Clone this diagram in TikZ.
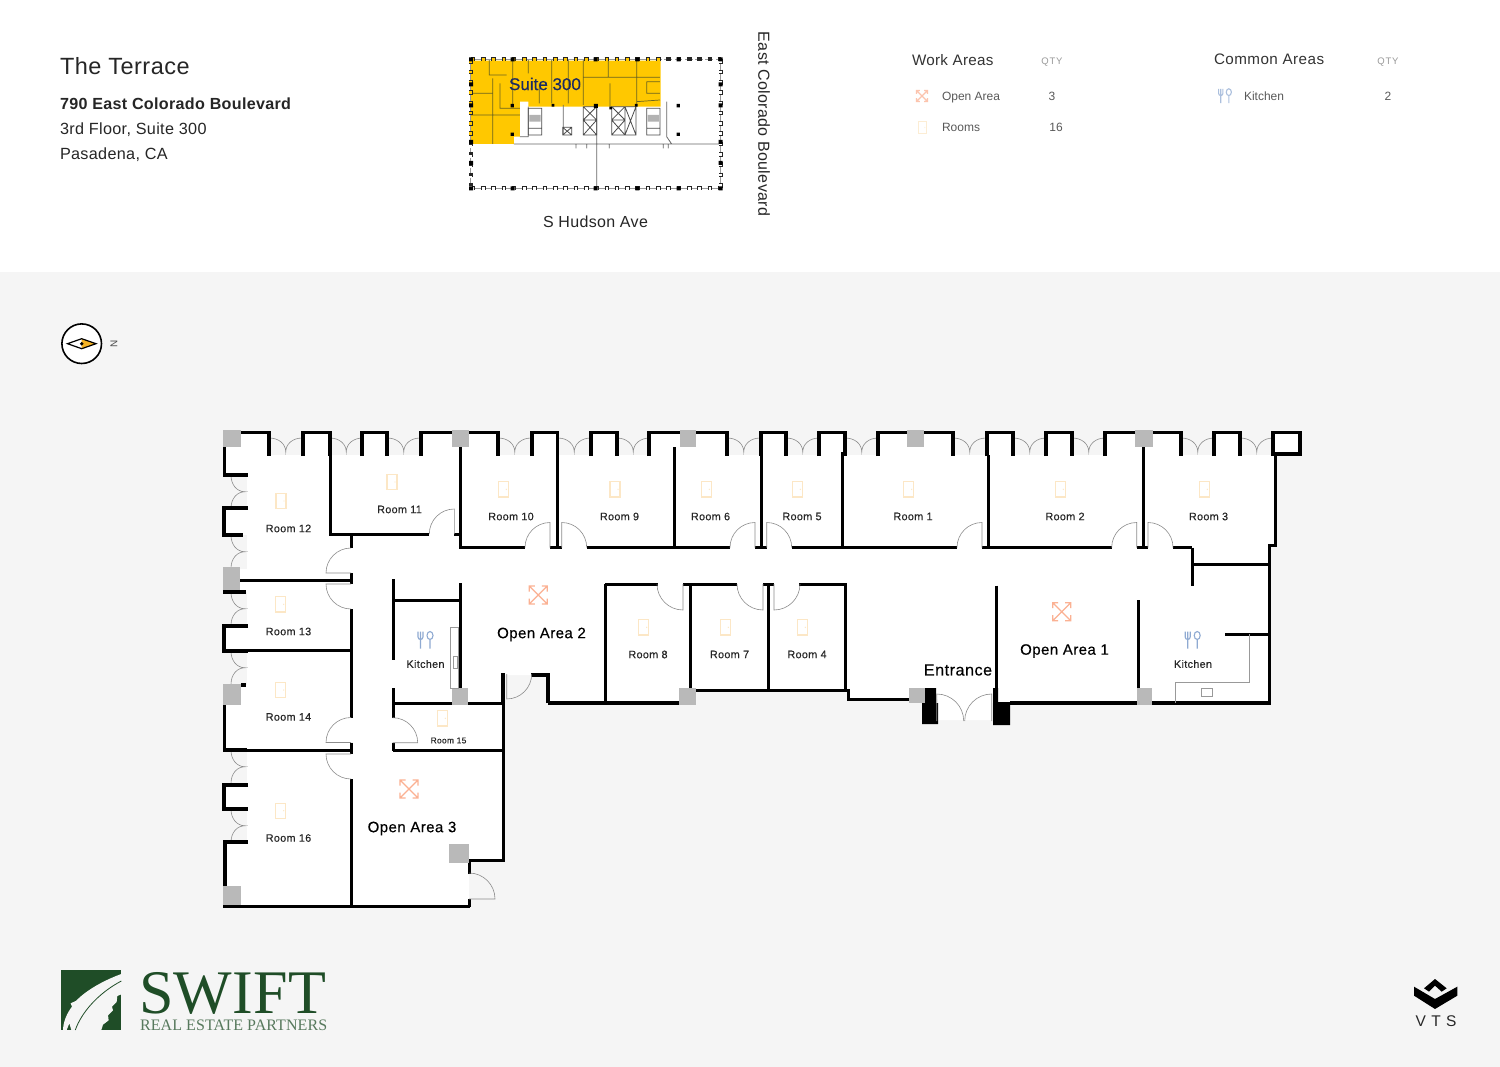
\documentclass[tikz,border=0pt]{standalone}
\usepackage{fontspec}
\setmainfont{Liberation Sans}
\newfontfamily\planfont[LetterSpace=3,FakeBold=0.3]{Liberation Sans}
\newfontfamily\keyfont[FakeBold=0.4]{Liberation Sans}
\newfontfamily\headfont[LetterSpace=2]{Liberation Sans}
\newfontfamily\commonfont[LetterSpace=3]{Liberation Sans}
\newfontfamily\qtyfont[LetterSpace=8]{Liberation Sans}
\newfontfamily\logofont[LetterSpace=.6]{Liberation Serif}
\newfontfamily\vtsfont[LetterSpace=35]{Liberation Sans}
\newcommand{\fsize}[1]{\fontsize{#1}{#1}\selectfont}
\definecolor{floorbg}{HTML}{F5F5F5}
\definecolor{colgray}{HTML}{B9B9B9}
\definecolor{doorcol}{HTML}{FCE7C6}
\definecolor{opencol}{HTML}{FBB193}
\definecolor{kitchcol}{HTML}{8FAAD2}
\definecolor{swiftgreen}{HTML}{1F4D27}
\definecolor{keyyellow}{HTML}{FFC800}
\definecolor{keyline}{HTML}{6B6420}
\definecolor{keynavy}{HTML}{1B2A62}
\definecolor{eyeorange}{HTML}{F5B324}
\tikzset{
  doorico/.pic={\draw[pic actions,doorcol,line width=1.2pt] (-5,-7.6) rectangle (5,7.6); \fill[doorcol] (3,0) circle (.7);},
  openico/.pic={\draw[pic actions,opencol,line width=1.2pt] (-9,-9) -- (9,9) (-9,9) -- (9,-9)
      (-9,-3.5) -- (-9,-9) -- (-3.5,-9) (3.5,-9) -- (9,-9) -- (9,-3.5) (9,3.5) -- (9,9) -- (3.5,9) (-3.5,9) -- (-9,9) -- (-9,3.5);},
  kitchico/.pic={\draw[pic actions,kitchcol,line width=1.1pt] (-7.5,-8.5) -- (-7.5,-3) arc[start angle=180,delta angle=-180,radius=2.5] -- (-2.5,-8.5) (-5,-8.5) -- (-5,8.5)
      (4.5,-4.5) circle[x radius=3,y radius=4] (4.5,-.5) -- (4.5,8.5);}
}
\newcommand{\topbay}[1]{\fill[floorbg] (#1,431) rectangle ++(33.5,24);
  \draw[swing] (#1,438) .. controls ++(10,0) and ++(0,-8) .. ++(16.75,14) .. controls ++(0,-8) and ++(-10,0) .. ++(16.75,-14);}
\newcommand{\sidebay}[1]{\fill[floorbg] (222,#1) rectangle ++(25,33.5);
  \draw[swing] (231,#1) .. controls ++(0,10) and ++(-8,0) .. ++(14,16.75) .. controls ++(-8,0) and ++(0,-10) .. ++(-14,16.75);}
\newcommand{\doorswing}[4][25]{\draw[swing] (#2) -- ++(#3:#1) arc[start angle=#3,delta angle=#4,radius=#1];}
\begin{document}
\begin{tikzpicture}[x=1pt,y=-1pt]
\tikzstyle{every node}=[inner sep=0pt,outer sep=0pt]
\tikzstyle{wall}=[line width=3pt,black]
\tikzstyle{facade}=[line width=3.7pt,black]
\tikzstyle{swing}=[line width=.6pt,black!45]
\tikzstyle{fixture}=[line width=.7pt,black!40]
\tikzstyle{column}=[fill=colgray]
\tikzstyle{room}=[font=\planfont\fsize{10.8},text=black!85]
\tikzstyle{bigroom}=[font=\planfont\fsize{15},text=black]
\tikzstyle{legend}=[font=\fsize{12},text=black!65]
\tikzstyle{qty}=[font=\qtyfont\fsize{9.5},text=black!40]
\tikzstyle{areahead}=[font=\headfont\fsize{15.2},text=black!80,anchor=west]
\tikzstyle{info}=[font=\headfont\fsize{16.2},text=black!85,anchor=west]
\tikzstyle{keybump}=[line width=4pt,black!85,dash pattern=on 4.6pt off 5.7pt]
\tikzstyle{keyhole}=[line width=2.4pt,dash pattern=on 2.6pt off 7.7pt,dash phase=-1pt]
\tikzstyle{keydot}=[fill=black]
\useasboundingbox (0,0) rectangle (1500,1067);
\fill[white] (0,0) rectangle (1500,1067);
\fill[floorbg] (0,272) rectangle (1500,1067);

\node[anchor=west,font=\headfont\fsize{23.5},text=black!85](title) at (60,66.5) {The Terrace};
\node[info,font=\headfont\bfseries\fsize{16.1}](street) at (60,103.5) {790 East Colorado Boulevard};
\node[info](suite) at (60,130) {3rd Floor, Suite 300};
\node[info](city) at (60,155) {Pasadena, CA};

\begin{scope}[shift={(450,40)},x=.3333pt,y=-.3333pt]
\fill[keyyellow] (62,62) -- (632,62) -- (632,200) -- (235,200) -- (235,185) -- (210,185) -- (210,290) -- (192,290) -- (192,312) -- (62,312) -- cycle;
\draw[keyline,line width=.7pt] (118,60) -- (118,105) -- (170,105) (188,60) -- (188,195) (235,60) -- (235,100) (305,60) -- (305,190) (355,60) -- (355,190)
  (400,60) -- (400,195) (475,60) -- (475,112) (480,130) -- (480,200) (560,60) -- (560,200) (268,130) -- (268,190) (400,112) -- (630,112) (62,160) -- (128,160)
  (62,225) -- (210,225) (128,115) -- (128,312) (150,130) -- (150,205) -- (210,205) (590,125) -- (630,125) (590,125) -- (590,160) -- (630,160) (560,185) -- (630,180);
\draw[black!60,line width=.8pt] (192,312) -- (810,312) (440,200) -- (440,445) (650,185) -- (650,290) -- (665,312) (340,195) -- (340,285) (378,312) -- (378,325) (410,312) -- (410,325)
  (478,312) -- (478,325) (640,312) -- (640,325) (655,312) -- (655,325) (210,290) -- (235,290) -- (235,200);
\draw[black!70,line width=.8pt] (235,205) rectangle (275,285) (235,265) -- (275,265) (275,205) -- (275,285) (400,200) rectangle (440,285) (400,240) -- (440,240)
  (400,200) -- (440,240) (440,200) -- (400,240) (400,240) -- (440,285) (440,240) -- (400,285) (485,200) rectangle (525,285) (485,240) -- (525,240) (485,200) -- (525,240)
  (525,200) -- (485,240) (485,240) -- (525,285) (525,240) -- (485,285) (525,200) rectangle (558,285) (525,200) -- (558,285) (558,200) -- (525,285)
  (590,205) rectangle (630,285) (590,265) -- (630,265) (338,262) rectangle (365,285) (338,262) -- (365,285) (365,262) -- (338,285);
\fill[black!30] (238,225) rectangle (272,245) (593,225) rectangle (627,245);
\draw[black!40,line width=.4pt] (62,58) -- (812,58) -- (812,445) -- (62,445) -- cycle;
\draw[keybump] (62,58) -- (812,58);
\draw[keybump] (62,445) -- (812,445);
\draw[keybump] (62,58) -- (62,445);
\draw[keybump] (812,58) -- (812,445);
\draw[keyhole,white] (632,58) -- (812,58);
\draw[keyhole,white] (62,445) -- (812,445);
\draw[keyhole,white] (62,312) -- (62,445);
\draw[keyhole,white] (812,58) -- (812,445);
\draw[keyhole,keyyellow] (62,58) -- (632,58);
\draw[keyhole,keyyellow] (62,58) -- (62,312);
\fill[keydot] (57,52) rectangle ++(12,12) (182,52) rectangle ++(12,12) (431,52) rectangle ++(12,12) (556,52) rectangle ++(12,12) (680,52) rectangle ++(12,12) (806,52) rectangle ++(12,12);
\fill[keydot] (57,439) rectangle ++(12,12) (182,439) rectangle ++(12,12) (431,439) rectangle ++(12,12) (556,439) rectangle ++(12,12) (680,439) rectangle ++(12,12) (806,439) rectangle ++(12,12);
\fill[keydot] (57,127) rectangle ++(12,12) (57,190) rectangle ++(12,12) (57,300) rectangle ++(12,12) (57,363) rectangle ++(12,12);
\fill[keydot] (806,127) rectangle ++(12,12) (806,190) rectangle ++(12,12) (806,300) rectangle ++(12,12) (806,363) rectangle ++(12,12);
\fill[keydot] (680,192) rectangle ++(10,10) (680,278) rectangle ++(10,10) (182,192) rectangle ++(10,10) (182,278) rectangle ++(10,10) (432,192) rectangle ++(12,12) (478,200) rectangle ++(8,8) (305,192) rectangle ++(8,8) (555,192) rectangle ++(8,8);
\end{scope}
\node[font=\keyfont\fsize{17},text=keynavy](keysuite) at (545,84) {Suite 300};
\node[font=\headfont\fsize{16},text=black!85](keysouth) at (595.5,222) {S Hudson Ave};
\node[font=\headfont\fsize{16},text=black!85,rotate=-90](keyeast) at (764,124) {East Colorado Boulevard};

\node[areahead](workhead) at (912,60) {Work Areas};
\node[qty](workqty) at (1052,62) {QTY};
\pic[scale=.62,opacity=.75] at (922,96) {openico};
\node[legend,anchor=west](openlabel) at (942,97.5) {Open Area};
\node[legend](opennum) at (1052,96) {3};
\pic[scale=.8,opacity=.75] at (922.5,127.5) {doorico};
\node[legend,anchor=west](roomslabel) at (942,127.5) {Rooms};
\node[legend](roomsnum) at (1056,127.5) {16};
\node[areahead,font=\commonfont\fsize{15.2}](commonhead) at (1214,59.5) {Common Areas};
\node[qty](commonqty) at (1388,62) {QTY};
\pic[scale=.85,opacity=.75] at (1225,96) {kitchico};
\node[legend,anchor=west](kitchlabel) at (1244,96) {Kitchen};
\node[legend](kitchnum) at (1388,96) {2};

\draw[black,line width=1.6pt,fill=white] (81.7,343.7) circle (19.8);
\fill[eyeorange] (81.7,338.7) -- (96,343.7) -- (81.7,348.7) -- cycle;
\draw[black,line width=1.2pt] (67.5,343.7) -- (81.7,338.7) -- (96,343.7) -- (81.7,348.7) -- cycle;
\fill[black] (81.7,343.7) circle (1.9);
\node[font=\fsize{10},text=black!70,rotate=90](north) at (114,343.5) {N};

\fill[white] (223,431) -- (1300,431) -- (1300,455) -- (1275,455) -- (1275,545) -- (1269,545) -- (1269,703) -- (992,703) -- (992,720) -- (938,720) -- (938,699) -- (848,699)
  -- (848,690) -- (696,690) -- (696,703) -- (548,703) -- (548,675) -- (503,675) -- (503,860) -- (469,860) -- (469,906) -- (223,906) -- cycle;
\topbay{269}
\topbay{329.5}
\topbay{387}
\topbay{498}
\topbay{557.5}
\topbay{616.5}
\topbay{727}
\topbay{786}
\topbay{845}
\topbay{953}
\topbay{1013}
\topbay{1072}
\topbay{1181}
\topbay{1240}
\sidebay{475}
\sidebay{535}
\sidebay{592}
\sidebay{651}
\sidebay{750}
\sidebay{809}

\draw[facade] (241,432.5) -- (269,432.5) -- (269,456) (303,456) -- (303,432.5) -- (330,432.5) -- (330,456) (362,456) -- (362,432.5) -- (387,432.5) -- (387,456)
  (421,456) -- (421,432.5) -- (452,432.5) (469,432.5) -- (498,432.5) -- (498,456) (532,456) -- (532,432.5) -- (557.5,432.5) -- (557.5,456)
  (591,456) -- (591,432.5) -- (617,432.5) -- (617,456) (649,456) -- (649,432.5) -- (680,432.5) (696,432.5) -- (727,432.5) -- (727,456)
  (761,456) -- (761,432.5) -- (786,432.5) -- (786,456) (819,456) -- (819,432.5) -- (845,432.5) -- (845,456) (878,456) -- (878,432.5) -- (907,432.5)
  (924,432.5) -- (953,432.5) -- (953,456) (987,456) -- (987,432.5) -- (1013,432.5) -- (1013,456) (1046,456) -- (1046,432.5) -- (1072,432.5) -- (1072,456)
  (1105,456) -- (1105,432.5) -- (1135,432.5) (1153,432.5) -- (1181,432.5) -- (1181,456) (1214,456) -- (1214,432.5) -- (1240,432.5) -- (1240,456)
  (1273,432.5) rectangle (1300,454);
\draw[facade] (224.5,447) -- (224.5,475) -- (247.5,475) (248,508) -- (224,508) -- (224,535) -- (243,535) (223,592) -- (245.5,592) (248,626) -- (224,626) -- (224,651) -- (248,651)
  (241,685) -- (246,685) (224.5,705) -- (224.5,750) -- (247,750) (248,785) -- (224,785) -- (224,809) -- (248,809) (248,842) -- (225,842) -- (225,886) (223,906.5) -- (247,906.5);
\draw[facade,line width=4pt] (548,703) -- (679,703) (1010,703) -- (1137,703) (1152,703) -- (1271,703);
\draw[facade] (548,703) -- (548,675) -- (531,675) (505,675) -- (503,675) -- (503,703);

\draw[wall] (1275.5,455) -- (1275.5,545.5) -- (1269,545.5) -- (1269,703) (1192,547.5) -- (1192,585.5) (1192,564.5) -- (1269,564.5) (1225,634) -- (1269,634)
  (1138.7,600) -- (1138.7,688) (1143,447) -- (1143,547.5) (1173,547.5) -- (1192,547.5) (1137,547.5) -- (1148,547.5) (988,455) -- (988,547.5) (982,547.5) -- (1112,547.5)
  (842,452) -- (842,547.5) (791.7,547.5) -- (957,547.5) (755,547.5) -- (766.7,547.5) (761,455) -- (761,547.5) (674,447) -- (674,547.5) (586.7,547.5) -- (730,547.5)
  (550,547.5) -- (561.7,547.5) (557.5,455) -- (557.5,547.5) (460,447) -- (460,547.5) -- (525,547.5) (454,534) -- (460,534) (330,455) -- (330,534) -- (429,534) (351,534) -- (351,548);
\draw[wall] (605,584) -- (605,703) (605,584) -- (658,584) (683,584) -- (737,584) (690,584) -- (690,690) (763,584) -- (774,584) (768.3,584) -- (768.3,690) (799.3,584) -- (845.7,584) -- (845.7,690)
  (696,690.5) -- (848,690.5) -- (848,699) -- (909,699) (996,585.7) -- (996,703);
\draw[wall] (240,580) -- (351,580) (351,573) -- (351,584) (351,609) -- (351,717.7) (248,650) -- (351,650) (351,742.5) -- (351,754) (247,750) -- (351,750) (351,779) -- (351,906) (247,906.5) -- (470,906.5)
  (469,906.5) -- (469,899) (469,874) -- (469,860) -- (503,860) -- (503,703) (393.3,579) -- (393.3,660) (393.3,600) -- (460,600) (460,583) -- (460,688) (393.3,688) -- (393.3,717.7)
  (393.3,703) -- (503,703) (393.3,742.7) -- (393.3,751) (393.3,750) -- (503,750);
\fill[black] (925,688) rectangle (936,703) (922,703) rectangle (938,724) (993,688) rectangle (998,703) (993,702) rectangle (1010,725);

\fill[column] (223,430) rectangle (241,447);
\fill[column] (452,430) rectangle (469,447);
\fill[column] (680,430) rectangle (696,447);
\fill[column] (907,430) rectangle (924,447);
\fill[column] (1135,430) rectangle (1153,447);
\fill[column] (223,567) rectangle (240,590);
\fill[column] (223,684) rectangle (241,705);
\fill[column] (223,886) rectangle (241,905);
\fill[column] (452,688) rectangle (468,705);
\fill[column] (449,844) rectangle (469,862.5);
\fill[column] (679,688) rectangle (696,705);
\fill[column] (909,688) rectangle (925,703);
\fill[column] (1137,688) rectangle (1152,705);

\doorswing{454.3,534}{-90}{-90}
\doorswing{550,547.5}{-90}{-90}
\doorswing{561.7,547.5}{-90}{90}
\doorswing{755,547.5}{-90}{-90}
\doorswing{766.7,547.5}{-90}{90}
\doorswing{982,547.5}{-90}{-90}
\doorswing{1136.7,547.5}{-90}{-90}
\doorswing{1148,547.5}{-90}{90}
\doorswing{351,573}{180}{90}
\doorswing{351,584}{180}{-90}
\doorswing{351,742.5}{180}{90}
\doorswing{351,754}{180}{-90}
\doorswing{392.7,742.7}{0}{-90}
\doorswing[26]{469,899}{0}{-90}
\doorswing{506.7,674}{90}{-90}
\doorswing[26]{683,584}{90}{90}
\doorswing[26]{763,584}{90}{90}
\doorswing[26]{774,584}{90}{-90}
\doorswing[27]{936.7,721}{-90}{90}
\doorswing[27]{991.7,721}{-90}{-90}

\draw[fixture] (450.7,627) rectangle (458,688) (453,656) rectangle (457,668);
\draw[fixture] (1249.3,634) -- (1249.3,682.7) -- (1175.7,682.7) -- (1175.7,703) (1201,688) rectangle (1212.7,696);

\pic at (281,501) {doorico};
\pic at (392,482) {doorico};
\pic at (503.3,489.3) {doorico};
\pic at (615,489.3) {doorico};
\pic at (706.3,489.3) {doorico};
\pic at (797.3,489.3) {doorico};
\pic at (908.7,489.3) {doorico};
\pic at (1060.3,489.3) {doorico};
\pic at (1204.3,489.3) {doorico};
\pic at (643.7,627.3) {doorico};
\pic at (725.3,627.3) {doorico};
\pic at (802.3,627.3) {doorico};
\pic at (280.7,604.3) {doorico};
\pic at (280.7,690) {doorico};
\pic at (442.3,718.3) {doorico};
\pic at (280.7,810.7) {doorico};
\pic at (538.3,595) {openico};
\pic at (1061.7,611.7) {openico};
\pic at (409,789) {openico};
\pic at (425.5,640) {kitchico};
\pic at (1192.7,640) {kitchico};

\node[room](R12) at (288.5,528.5) {Room 12};
\node[room](R11) at (399.5,509.5) {Room 11};
\node[room](R10) at (511,516.5) {Room 10};
\node[room](R9) at (619.5,516.5) {Room 9};
\node[room](R6) at (710.5,516.5) {Room 6};
\node[room](R5) at (802,516.5) {Room 5};
\node[room](R1) at (913,516.5) {Room 1};
\node[room](R2) at (1065,516.5) {Room 2};
\node[room](R3) at (1208.5,516.5) {Room 3};
\node[room](R8) at (648,654.5) {Room 8};
\node[room](R7) at (729.5,654.5) {Room 7};
\node[room](R4) at (807,654.5) {Room 4};
\node[room](R13) at (288.5,631.5) {Room 13};
\node[room](R14) at (288.5,717) {Room 14};
\node[room,font=\planfont\fsize{8.5}](R15) at (448.5,740.5) {Room 15};
\node[room](R16) at (288.5,838) {Room 16};
\node[room](K1) at (425.5,664) {Kitchen};
\node[room](K2) at (1193,664) {Kitchen};
\node[bigroom](OA2) at (541.5,634.5) {Open Area 2};
\node[bigroom](OA1) at (1064.5,651) {Open Area 1};
\node[bigroom](OA3) at (412,828.5) {Open Area 3};
\node[bigroom,font=\planfont\fsize{16.2}](entr) at (958,670) {Entrance};

\begin{scope}[shift={(58,966)},x=.3333pt,y=-.3333pt]
\fill[swiftgreen] (10,12) rectangle (190,192);
\fill[white!96!black] (15,192) .. controls (16,165) and (28,140) .. (42,122) -- (38,112) -- (55,104) .. controls (85,72) and (140,42) .. (190,24) -- (190,85) -- (178,90) -- (176,108) -- (162,122) -- (165,133) -- (150,148) -- (152,163) -- (135,176) -- (130,192) -- (40,192) -- (34,172) -- (26,192) -- cycle;
\draw[swiftgreen,line width=.8pt] (52,192) .. controls (70,140) and (120,82) .. (190,45);
\end{scope}
\node[font=\logofont\fsize{62},text=swiftgreen,anchor=west](swift) at (139,993) {SWIFT};
\node[font=\logofont\fsize{16},text=swiftgreen!75!white,anchor=west](swiftsub) at (140,1025.5) {REAL ESTATE PARTNERS};

\begin{scope}[shift={(1390,965)},x=.3333pt,y=-.3333pt]
\fill[black] (72,65) -- (135,102) -- (202,65) -- (202,92) -- (135,132) -- (72,92) -- cycle;
\fill[black] (102,70) -- (135,42) -- (170,70) -- (155,80) -- (135,62) -- (117,80) -- cycle;
\end{scope}
\node[font=\vtsfont\fsize{15.5},text=black!85](vts) at (1436,1021) {VTS};
\end{tikzpicture}
\end{document}
